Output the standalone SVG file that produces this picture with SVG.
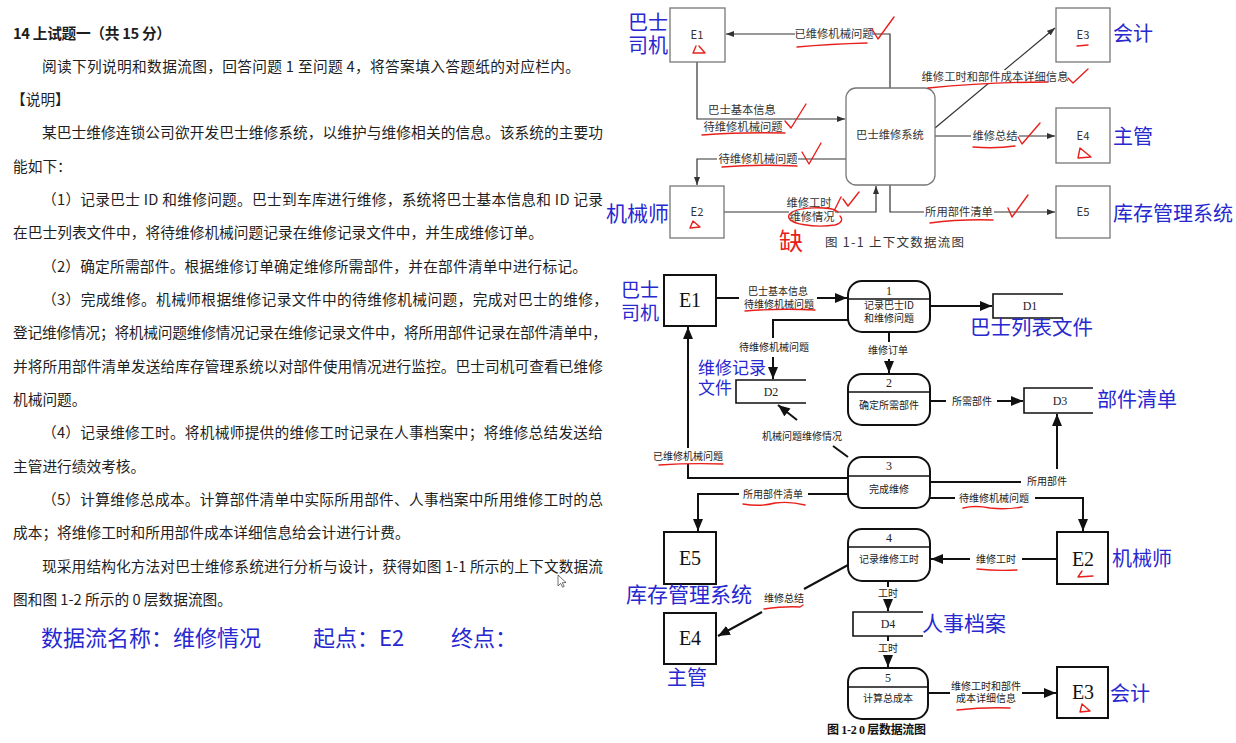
<svg xmlns="http://www.w3.org/2000/svg" width="1236" height="743" viewBox="0 0 1236 743">
<defs>
<style>
.t{font-family:"Noto Sans CJK SC","Liberation Sans",sans-serif;font-size:14.7px;fill:#1e1e1e}
.b{font-weight:bold}
.blue{font-family:"Noto Sans CJK SC","Liberation Serif",sans-serif;fill:#2828d0}
.bx1{fill:#fff;stroke:#777;stroke-width:1.3}
.c1{fill:none;stroke:#333;stroke-width:1.2}
.l1{font-family:"Noto Sans CJK SC","Liberation Sans",sans-serif;font-size:11.3px;fill:#333;text-anchor:middle}
.bg{fill:#fff}
.bx2{fill:#fff;stroke:#111;stroke-width:2}
.st{fill:none;stroke:#111;stroke-width:1.6}
.c2{fill:none;stroke:#111;stroke-width:2}
.l2{font-family:"Noto Sans CJK SC","Liberation Sans",sans-serif;font-size:10px;fill:#222;text-anchor:middle}
.s2{font-family:"Liberation Serif",serif;font-size:12px;fill:#222;text-anchor:middle}
.e2{font-family:"Liberation Serif",serif;font-size:20px;fill:#111;text-anchor:middle}
.red{fill:none;stroke:#e8201c;stroke-width:1.4;stroke-linecap:round;stroke-linejoin:round}
</style>
<marker id="a1" viewBox="0 0 8 6" refX="8" refY="3" markerWidth="8" markerHeight="6" markerUnits="userSpaceOnUse" orient="auto"><path d="M0,0 L8,3 L0,6 z" fill="#333"/></marker>
<marker id="a2" viewBox="0 0 12 10" refX="12" refY="5" markerWidth="12" markerHeight="10" markerUnits="userSpaceOnUse" orient="auto"><path d="M0,0 L12,5 L0,10 z" fill="#111"/></marker>
</defs>
<rect width="1236" height="743" fill="#fff"/>

<!-- left text -->
<g id="text-left" class="t">
<text x="13" y="39" class="b" textLength="158">14 上试题一（共 15 分）</text>
<text x="42" y="72" textLength="538">阅读下列说明和数据流图，回答问题 1 至问题 4，将答案填入答题纸的对应栏内。</text>
<text x="11" y="105">【说明】</text>
<text x="42" y="138" textLength="561">某巴士维修连锁公司欲开发巴士维修系统，以维护与维修相关的信息。该系统的主要功</text>
<text x="13" y="172">能如下：</text>
<text x="42" y="205" textLength="561">（1）记录巴士 ID 和维修问题。巴士到车库进行维修，系统将巴士基本信息和 ID 记录</text>
<text x="13" y="238" textLength="530">在巴士列表文件中，将待维修机械问题记录在维修记录文件中，并生成维修订单。</text>
<text x="42" y="272" textLength="545">（2）确定所需部件。根据维修订单确定维修所需部件，并在部件清单中进行标记。</text>
<text x="42" y="305" textLength="566">（3）完成维修。机械师根据维修记录文件中的待维修机械问题，完成对巴士的维修，</text>
<text x="13" y="338" textLength="594">登记维修情况；将机械问题维修情况记录在维修记录文件中，将所用部件记录在部件清单中，</text>
<text x="13" y="372" textLength="590">并将所用部件清单发送给库存管理系统以对部件使用情况进行监控。巴士司机可查看已维修</text>
<text x="13" y="405">机械问题。</text>
<text x="42" y="438" textLength="561">（4）记录维修工时。将机械师提供的维修工时记录在人事档案中；将维修总结发送给</text>
<text x="13" y="472">主管进行绩效考核。</text>
<text x="42" y="505" textLength="561">（5）计算维修总成本。计算部件清单中实际所用部件、人事档案中所用维修工时的总</text>
<text x="13" y="538">成本；将维修工时和所用部件成本详细信息给会计进行计费。</text>
<text x="42" y="572" textLength="561">现采用结构化方法对巴士维修系统进行分析与设计，获得如图 1-1 所示的上下文数据流</text>
<text x="13" y="605">图和图 1-2 所示的 0 层数据流图。</text>
</g>
<path d="M558,575 L558,586 L560.6,583.4 L562.6,587.2 L564.2,586.4 L562.3,582.7 L566,582.5 Z" fill="#fff" stroke="#333" stroke-width="0.7"/>
<g id="answer-note" class="blue" font-size="22">
<text x="41" y="646">数据流名称：维修情况</text>
<text x="313" y="646">起点：E2</text>
<text x="451" y="646">终点：</text>
</g>

<!-- ===== Figure 1-1 ===== -->
<g id="fig1-connectors">
<path class="c1" d="M890,88 V34 H726" marker-end="url(#a1)"/>
<path class="c1" d="M697,62 V119 H845" marker-end="url(#a1)"/>
<path class="c1" d="M846,159 H697 V185" marker-end="url(#a1)"/>
<path class="c1" d="M724,212 H876 V186" marker-end="url(#a1)"/>
<path class="c1" d="M935,128 L1055,28" marker-end="url(#a1)"/>
<path class="c1" d="M935,136 H1055" marker-end="url(#a1)"/>
<path class="c1" d="M890,185 V212 H1055" marker-end="url(#a1)"/>
<rect class="bg" x="795" y="27" width="78" height="14"/>
<text class="l1" x="834" y="38">已维修机械问题</text>
<rect class="bg" x="707" y="103" width="70" height="13"/>
<text class="l1" x="742" y="114">巴士基本信息</text>
<rect class="bg" x="701" y="121" width="85" height="13"/>
<text class="l1" x="743" y="131">待维修机械问题</text>
<rect class="bg" x="717" y="152" width="81" height="14"/>
<text class="l1" x="758" y="163">待维修机械问题</text>
<rect class="bg" x="786" y="196" width="47" height="13"/>
<text class="l1" x="809" y="207">维修工时</text>
<rect class="bg" x="789" y="211" width="46" height="13"/>
<text class="l1" x="812" y="221">维修情况</text>
<rect class="bg" x="921" y="70" width="148" height="14"/>
<text class="l1" x="995" y="81">维修工时和部件成本详细信息</text>
<rect class="bg" x="971" y="129" width="48" height="14"/>
<text class="l1" x="995" y="140">维修总结</text>
<rect class="bg" x="924" y="205" width="70" height="14"/>
<text class="l1" x="959" y="216">所用部件清单</text>
</g>
<g id="fig1-E1"><rect class="bx1" x="670" y="8" width="55" height="54"/><text class="l1" x="697" y="39" font-size="12">E1</text></g>
<g id="fig1-E2"><rect class="bx1" x="670" y="186" width="54" height="52"/><text class="l1" x="697" y="216" font-size="12">E2</text></g>
<g id="fig1-E3"><rect class="bx1" x="1056" y="8" width="54" height="54"/><text class="l1" x="1083" y="39" font-size="12">E3</text></g>
<g id="fig1-E4"><rect class="bx1" x="1056" y="108" width="54" height="55"/><text class="l1" x="1083" y="140" font-size="12">E4</text></g>
<g id="fig1-E5"><rect class="bx1" x="1056" y="186" width="54" height="52"/><text class="l1" x="1083" y="216" font-size="12">E5</text></g>
<g id="fig1-system"><rect class="bx1" x="846" y="88" width="89" height="97" rx="10"/><text class="l1" x="890" y="139">巴士维修系统</text></g>
<text x="825" y="247" font-family="Noto Sans CJK SC,Liberation Sans,sans-serif" font-size="12.5" fill="#333" textLength="139">图 1-1 上下文数据流图</text>

<!-- ===== Figure 1-2 ===== -->
<g id="fig2-connectors">
<path class="c2" d="M716,298 H739"/>
<path class="c2" d="M817,298 H847" marker-end="url(#a2)"/>
<path class="c2" d="M930,306 H992" marker-end="url(#a2)"/>
<path class="c2" d="M848,320 H773 V338"/>
<path class="c2" d="M773,357 V379" marker-end="url(#a2)"/>
<path class="c2" d="M889,332 V342"/>
<path class="c2" d="M889,359 V373" marker-end="url(#a2)"/>
<path class="c2" d="M930,401 H946"/>
<path class="c2" d="M997,401 H1023" marker-end="url(#a2)"/>
<path class="c2" d="M848,457 L833,446"/>
<path class="c2" d="M797,420 L778,405" marker-end="url(#a2)"/>
<path class="c2" d="M848,478 H688 V464"/>
<path class="c2" d="M688,448 V327" marker-end="url(#a2)"/>
<path class="c2" d="M848,494 H808"/>
<path class="c2" d="M739,494 H698 V531" marker-end="url(#a2)"/>
<path class="c2" d="M930,482 H1021"/>
<path class="c2" d="M1057,469 V414" marker-end="url(#a2)"/>
<path class="c2" d="M930,498 H955"/>
<path class="c2" d="M1035,498 H1083 V531" marker-end="url(#a2)"/>
<path class="c2" d="M1057,559 H1022"/>
<path class="c2" d="M970,559 H931" marker-end="url(#a2)"/>
<path class="c2" d="M848,565 L804,589"/>
<path class="c2" d="M762,612 L718,636" marker-end="url(#a2)"/>
<path class="c2" d="M888,581 V587"/>
<path class="c2" d="M888,600 V611" marker-end="url(#a2)"/>
<path class="c2" d="M888,636 V641"/>
<path class="c2" d="M888,655 V667" marker-end="url(#a2)"/>
<path class="c2" d="M928,693 H950"/>
<path class="c2" d="M1022,693 H1056" marker-end="url(#a2)"/>
<text class="l2" x="778" y="295" font-size="9.6">巴士基本信息</text>
<text class="l2" x="779" y="307.5" font-size="9.6">待维修机械问题</text>
<text class="l2" x="774" y="350.5">待维修机械问题</text>
<text class="l2" x="888" y="353.5">维修订单</text>
<text class="l2" x="972" y="405">所需部件</text>
<text class="l2" x="802" y="439.5">机械问题维修情况</text>
<text class="l2" x="688" y="459.5">已维修机械问题</text>
<text class="l2" x="773" y="497.5">所用部件清单</text>
<text class="l2" x="1047" y="484.5">所用部件</text>
<text class="l2" x="994" y="501.5">待维修机械问题</text>
<text class="l2" x="996" y="562.5">维修工时</text>
<text class="l2" x="784" y="601.5">维修总结</text>
<text class="l2" x="888" y="596.5">工时</text>
<text class="l2" x="888" y="651.5">工时</text>
<text class="l2" x="986" y="689.5" font-size="9.6">维修工时和部件</text>
<text class="l2" x="986" y="702" font-size="9.6">成本详细信息</text>
</g>
<g id="fig2-E1"><rect class="bx2" x="664" y="275" width="52" height="51"/><text class="e2" x="690" y="307">E1</text></g>
<g id="fig2-E5"><rect class="bx2" x="664" y="532" width="52" height="52"/><text class="e2" x="690" y="565">E5</text></g>
<g id="fig2-E4"><rect class="bx2" x="664" y="613" width="52" height="51"/><text class="e2" x="690" y="645">E4</text></g>
<g id="fig2-E2"><rect class="bx2" x="1057" y="532" width="51" height="52"/><text class="e2" x="1083" y="566">E2</text></g>
<g id="fig2-E3"><rect class="bx2" x="1057" y="667" width="51" height="51"/><text class="e2" x="1083" y="699">E3</text></g>
<g id="fig2-P1"><rect class="bx2" x="848" y="281" width="82" height="51" rx="14"/><path class="st" d="M848,299 H930"/><text class="s2" x="889" y="295">1</text><text class="l2" x="889" y="309">记录巴士ID</text><text class="l2" x="889" y="322">和维修问题</text></g>
<g id="fig2-P2"><rect class="bx2" x="848" y="374" width="82" height="51" rx="14"/><path class="st" d="M848,392 H930"/><text class="s2" x="889" y="387">2</text><text class="l2" x="889" y="409">确定所需部件</text></g>
<g id="fig2-P3"><rect class="bx2" x="848" y="457" width="82" height="51" rx="14"/><path class="st" d="M848,476 H930"/><text class="s2" x="889" y="470">3</text><text class="l2" x="889" y="493">完成维修</text></g>
<g id="fig2-P4"><rect class="bx2" x="848" y="529" width="82" height="52" rx="14"/><path class="st" d="M848,547 H930"/><text class="s2" x="889" y="542">4</text><text class="l2" x="889" y="563">记录维修工时</text></g>
<g id="fig2-P5"><rect class="bx2" x="848" y="668" width="80" height="51" rx="14"/><path class="st" d="M848,687 H928"/><text class="s2" x="888" y="682">5</text><text class="l2" x="888" y="702">计算总成本</text></g>
<g id="fig2-D1"><path class="st" d="M1063,294 H993 V318 H1063"/><text class="s2" x="1030" y="310">D1</text></g>
<g id="fig2-D2"><path class="st" d="M806,380 H736 V403 H806"/><text class="s2" x="771" y="396">D2</text></g>
<g id="fig2-D3"><path class="st" d="M1093,388 H1024 V413 H1093"/><text class="s2" x="1060" y="405">D3</text></g>
<g id="fig2-D4"><path class="st" d="M923,612 H853 V636 H923"/><text class="s2" x="888" y="628">D4</text></g>
<text x="827" y="734" font-family="Liberation Serif,Noto Sans CJK SC,serif" font-size="12" font-weight="bold" fill="#111" textLength="99">图 1-2 0 层数据流图</text>

<!-- blue annotations -->
<g id="blue-notes" class="blue">
<text x="628" y="30" font-size="20">巴士</text>
<text x="628" y="53" font-size="20">司机</text>
<text x="606" y="221" font-size="21">机械师</text>
<text x="1113" y="41" font-size="20">会计</text>
<text x="1113" y="144" font-size="20">主管</text>
<text x="1113" y="221" font-size="20">库存管理系统</text>
<text x="621" y="297" font-size="19">巴士</text>
<text x="621" y="320" font-size="19">司机</text>
<text x="970" y="335" font-size="20.5">巴士列表文件</text>
<text x="698" y="374" font-size="17">维修记录</text>
<text x="698" y="394" font-size="17">文件</text>
<text x="1097" y="407" font-size="20">部件清单</text>
<text x="626" y="602" font-size="21">库存管理系统</text>
<text x="1112" y="566" font-size="20">机械师</text>
<text x="922" y="631" font-size="21">人事档案</text>
<text x="667" y="685" font-size="20">主管</text>
<text x="1110" y="701" font-size="20">会计</text>
</g>

<!-- red annotations -->
<g id="red-marks">
<path class="red" d="M797,47 Q830,44 867,43"/>
<path class="red" d="M872,29 L878,39 L894,17"/>
<path class="red" d="M702,135 Q740,132 785,133"/>
<path class="red" d="M785,121 L791,128 L806,104"/>
<path class="red" d="M722,167 Q760,164 797,166"/>
<path class="red" d="M802,152 L809,164 L821,143"/>
<path class="red" d="M834,211 L841,197"/>
<path class="red" d="M838,212 C832,206 795,206 789,215 C785,224 815,228 835,225 C842,223 843,219 840,216"/>
<path class="red" d="M843,199 L848,206 L859,192"/>
<text x="779" y="250" font-family="Noto Sans CJK SC,sans-serif" font-size="24" fill="#e8201c">缺</text>
<path class="red" d="M696,46 L693,53 L705,53 L699,46"/>
<path class="red" d="M693,221 L690,228 L700,227 Z"/>
<path class="red" d="M1077,46 L1088,45"/>
<path class="red" d="M928,88 Q990,82 1048,82"/>
<path class="red" d="M1068,78 L1073,83 L1088,69"/>
<path class="red" d="M973,147 Q995,149 1015,146"/>
<path class="red" d="M1018,137 L1022,144 L1040,123"/>
<path class="red" d="M1080,148 L1078,158 L1091,157 Z"/>
<path class="red" d="M930,223 Q960,219 993,220"/>
<path class="red" d="M1008,208 L1012,217 L1028,195"/>
<path class="red" d="M745,311 Q780,308 815,310"/>
<path class="red" d="M659,465 Q690,463 723,464"/>
<path class="red" d="M743,504 Q760,507 775,503 Q790,501 805,505"/>
<path class="red" d="M963,508 Q975,505 990,508 Q1005,510 1022,507"/>
<path class="red" d="M977,569 Q997,571 1017,570"/>
<path class="red" d="M1082,571 L1078,577 L1093,576"/>
<path class="red" d="M764,609 Q785,606 800,607 L803,605"/>
<path class="red" d="M957,710 Q985,707 1010,708"/>
<path class="red" d="M1082,704 L1080,712 L1090,711 Z"/>
</g>
</svg>
